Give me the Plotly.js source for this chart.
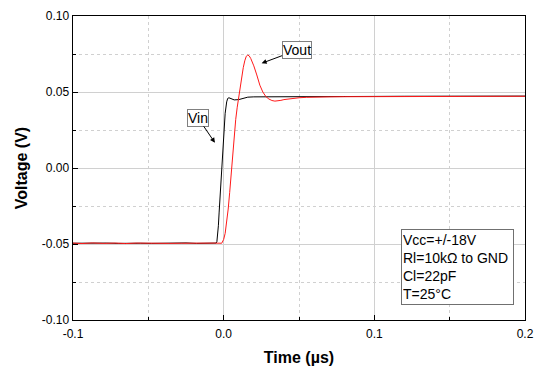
<!DOCTYPE html>
<html>
<head>
<meta charset="utf-8">
<script src="https://cdn.plot.ly/plotly-3.0.1.min.js"></script>
<style>html,body{margin:0;padding:0;background:#fff;}#chart{width:540px;height:371px;}</style>
</head>
<body>
<div id="chart"></div>
<script>
// Time axis (µs) and voltages (V)
const vinTime = [-0.1, -0.092, -0.085, -0.078, -0.07, -0.062, -0.055, -0.048, -0.04, -0.033, -0.025, -0.018, -0.01, -0.006, -0.005, -0.0045, -0.004, -0.0035, -0.003, -0.002, -0.001, 0.0, 0.001, 0.002, 0.0027, 0.0035, 0.005, 0.007, 0.010, 0.013, 0.016, 0.020, 0.030, 0.040, 0.060, 0.080, 0.100, 0.120, 0.140, 0.160, 0.180, 0.200];
const vinVolt = [-0.0495, -0.0493, -0.0496, -0.0494, -0.0496, -0.0493, -0.0495, -0.0496, -0.0494, -0.0495, -0.0493, -0.0496, -0.0494, -0.0495, -0.0494, -0.0485, -0.045, -0.038, -0.029, -0.011, 0.006, 0.023, 0.036, 0.0435, 0.0458, 0.0462, 0.0455, 0.0448, 0.0450, 0.0460, 0.0466, 0.0468, 0.0469, 0.0470, 0.0470, 0.0471, 0.0471, 0.0472, 0.0472, 0.0473, 0.0473, 0.0473];

const voutTime = [-0.1, -0.094, -0.087, -0.08, -0.072, -0.065, -0.058, -0.05, -0.043, -0.036, -0.028, -0.02, -0.013, -0.006, -0.0013, 0.0, 0.001, 0.002, 0.003, 0.004, 0.005, 0.006, 0.007, 0.008, 0.009, 0.010, 0.011, 0.012, 0.013, 0.014, 0.015, 0.016, 0.017, 0.018, 0.019, 0.020, 0.022, 0.024, 0.026, 0.028, 0.030, 0.032, 0.034, 0.036, 0.038, 0.040, 0.045, 0.050, 0.055, 0.060, 0.070, 0.080, 0.100, 0.120, 0.150, 0.175, 0.200];
const voutVolt = [-0.0494, -0.0497, -0.0493, -0.0496, -0.0494, -0.0497, -0.0494, -0.0496, -0.0493, -0.0496, -0.0495, -0.0493, -0.0496, -0.0494, -0.0495, -0.047, -0.043, -0.036, -0.027, -0.016, -0.003, 0.010, 0.021, 0.032, 0.040, 0.047, 0.054, 0.0605, 0.066, 0.0705, 0.0735, 0.0743, 0.0737, 0.0720, 0.0698, 0.0672, 0.0612, 0.0545, 0.0500, 0.0470, 0.0454, 0.0444, 0.0440, 0.0441, 0.0445, 0.0450, 0.0458, 0.0462, 0.0465, 0.0467, 0.0468, 0.0469, 0.0470, 0.0471, 0.0472, 0.0472, 0.0472];

const xTickVals = [-0.1, 0.0, 0.1, 0.2];
const xTickText = ['-0.1', '0.0', '0.1', '0.2'];
const yTickVals = [-0.10, -0.05, 0.00, 0.05, 0.10];
const yTickText = ['-0.10', '-0.05', '0.00', '0.05', '0.10'];

const FONT = 'Liberation Sans, Arial, sans-serif';

const traces = [
  {x: vinTime, y: vinVolt, type: 'scatter', mode: 'lines', name: 'Vin',
   line: {color: '#000000', width: 1}},
  {x: voutTime, y: voutVolt, type: 'scatter', mode: 'lines', name: 'Vout',
   line: {color: '#ff1a1a', width: 1}}
];

const axisCommon = {
  showline: true, linecolor: '#000', linewidth: 1.4, mirror: true,
  ticks: 'inside', ticklen: 5, tickcolor: '#000', tickwidth: 1,
  showgrid: true, gridcolor: '#d0d0d0', gridwidth: 1,
  zeroline: false,
  tickfont: {family: FONT, size: 12, color: '#000'}
};

const layout = {
  width: 540, height: 371,
  margin: {l: 73, r: 15, t: 16, b: 51},
  paper_bgcolor: '#fff', plot_bgcolor: '#fff',
  showlegend: false,
  font: {family: FONT, color: '#000'},
  xaxis: Object.assign({}, axisCommon, {
    range: [-0.1, 0.2], tickvals: xTickVals, ticktext: xTickText,
    ticklabelstandoff: 2,
    minor: {dtick: 0.05, tick0: -0.1, ticks: 'inside', ticklen: 3, tickcolor: '#000',
            showgrid: true, gridcolor: '#d0d0d0', griddash: 'dot', gridwidth: 1},
    title: {text: 'Time (µs)', font: {family: FONT, size: 16, color: '#000', weight: 'bold'}, standoff: 12}
  }),
  yaxis: Object.assign({}, axisCommon, {
    range: [-0.1, 0.1], tickvals: yTickVals, ticktext: yTickText,
    minor: {dtick: 0.025, tick0: -0.1, ticks: 'inside', ticklen: 3, tickcolor: '#000',
            showgrid: true, gridcolor: '#d0d0d0', griddash: 'dot', gridwidth: 1},
    title: {text: 'Voltage (V)', font: {family: FONT, size: 16, color: '#000', weight: 'bold'}, standoff: 10}
  }),
  annotations: [
    {x: 0.0252, y: 0.0689, xref: 'x', yref: 'y', text: 'Vout', showarrow: true,
     ax: 35, ay: -13, arrowhead: 2, arrowsize: 1, arrowwidth: 1, arrowcolor: '#000',
     font: {family: FONT, size: 14, color: '#000'}, bordercolor: '#808080', borderwidth: 1, borderpad: 0, bgcolor: '#fff'},
    {x: -0.0058, y: 0.0166, xref: 'x', yref: 'y', text: 'Vin', showarrow: true,
     ax: -17, ay: -25, arrowhead: 2, arrowsize: 1, arrowwidth: 1, arrowcolor: '#000',
     font: {family: FONT, size: 14, color: '#000'}, bordercolor: '#808080', borderwidth: 1, borderpad: 0, bgcolor: '#fff'},
    {x: 0.7257, y: 0.2993, xref: 'paper', yref: 'paper', xanchor: 'left', yanchor: 'top',
     text: 'Vcc=+/-18V<br>Rl=10kΩ to GND<br>Cl=22pF<br>T=25°C', showarrow: false, align: 'left',
     width: 109, height: 72, valign: 'middle',
     font: {family: FONT, size: 14, color: '#000'}, bordercolor: '#707070', borderwidth: 1, borderpad: 1, bgcolor: '#fff'}
  ]
};

Plotly.newPlot('chart', traces, layout, {displayModeBar: false, staticPlot: true});
</script>
</body>
</html>
